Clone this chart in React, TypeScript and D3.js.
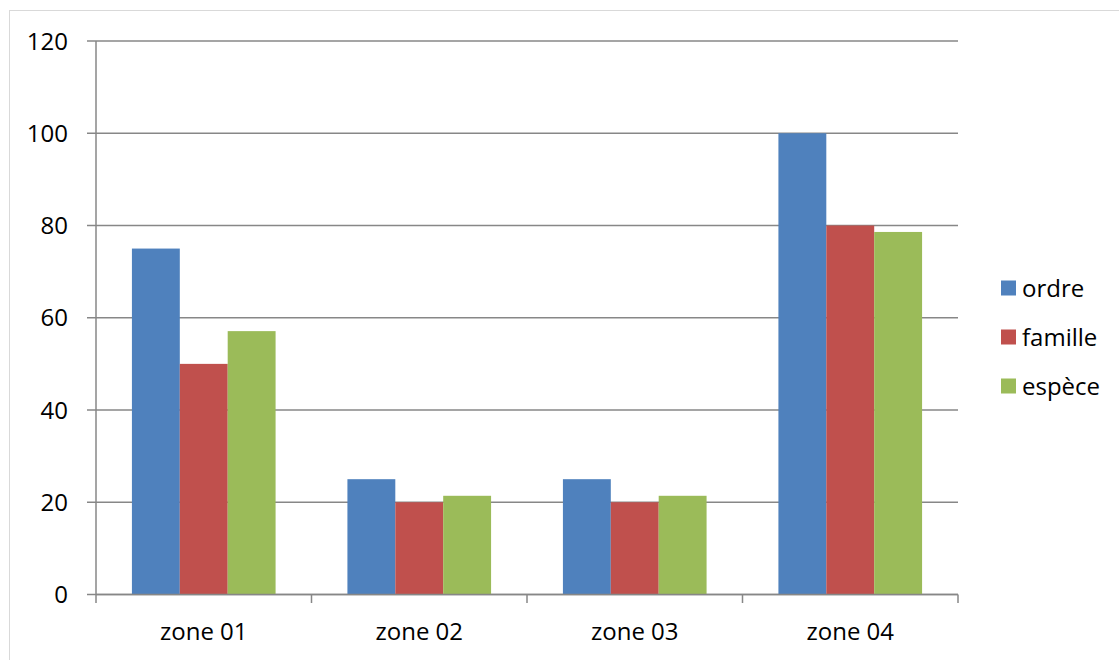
import React from "react";
import * as d3 from "d3";

const categories = ["zone 01", "zone 02", "zone 03", "zone 04"];
const seriesNames = ["ordre", "famille", "espèce"];
const ordre = [75, 25, 25, 100];
const famille = [50, 20, 20, 80];
const espece = [57.1, 21.4, 21.4, 78.6];
const yTicks = [0, 20, 40, 60, 80, 100, 120];
const colors = ["#4F81BD", "#C0504D", "#9BBB59"];

const W = 1119;
const H = 660;
const left = 96;
const right = 958;
const top = 41;
const bottom = 594.5;
const font = "'Open Sans', 'Noto Sans', sans-serif";
const fs = 24;

export default function App() {
  const series = [ordre, famille, espece];
  const x = d3.scaleBand<string>().domain(categories).range([left, right]).paddingInner(0).paddingOuter(0);
  const y = d3.scaleLinear().domain([0, 120]).range([bottom, top]);
  const bw = x.bandwidth();
  const barW = bw / (3 + 1.5);
  const gap = barW * 1.5;
  const xs = d3.scaleBand<number>().domain([0, 1, 2]).range([gap / 2, bw - gap / 2]).padding(0);

  return (
    <svg width={W} height={H} style={{ position: "absolute", left: 0, top: 0 }}>
      <rect x={9.5} y={10.5} width={W + 10} height={H + 10} fill="#fff" stroke="#d9d9d9" strokeWidth={1} />
      {yTicks.map((t) => (
        <g key={t}>
          <line x1={87} x2={right} y1={y(t)} y2={y(t)} stroke="#878787" strokeWidth={1.5} />
          <text x={68} y={y(t)} dy="0.36em" textAnchor="end" fontFamily={font} fontSize={fs} fill="#000">
            {t}
          </text>
        </g>
      ))}
      {series.map((vals, si) =>
        categories.map((c, ci) => (
          <rect
            key={si + "-" + ci}
            x={(x(c) as number) + (xs(si) as number)}
            y={y(vals[ci])}
            width={xs.bandwidth()}
            height={bottom - y(vals[ci])}
            fill={colors[si]}
          />
        ))
      )}
      <line x1={left} x2={left} y1={top} y2={bottom} stroke="#878787" strokeWidth={1.5} />
      <line x1={left} x2={right} y1={bottom} y2={bottom} stroke="#878787" strokeWidth={1.5} />
      {[...categories.map((c) => x(c) as number), right].map((v, i) => (
        <line key={i} x1={v} x2={v} y1={bottom} y2={603} stroke="#878787" strokeWidth={1.5} />
      ))}
      {categories.map((c) => (
        <text
          key={c}
          x={(x(c) as number) + bw / 2}
          y={631}
          dy="0.36em"
          textAnchor="middle"
          fontFamily={font}
          fontSize={fs}
          fill="#000"
        >
          {c}
        </text>
      ))}
      {seriesNames.map((n, i) => (
        <g key={n} transform={`translate(1001, ${288 + i * 49})`}>
          <rect x={0} y={-7.5} width={15} height={15} fill={colors[i]} />
          <text x={21} y={0} dy="0.36em" fontFamily={font} fontSize={fs} fill="#000">
            {n}
          </text>
        </g>
      ))}
    </svg>
  );
}
